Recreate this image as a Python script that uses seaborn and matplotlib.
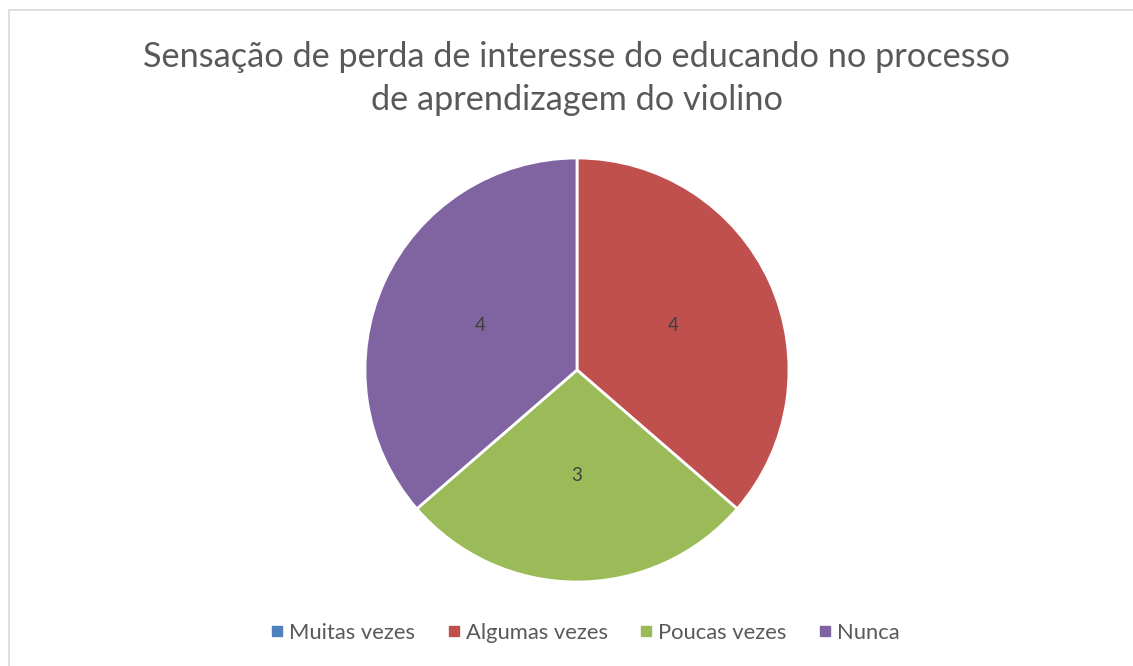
import matplotlib
matplotlib.use("Agg")
import matplotlib.pyplot as plt
import seaborn as sns
from matplotlib.patches import Rectangle
from matplotlib.lines import Line2D

categories = ["Muitas vezes", "Algumas vezes", "Poucas vezes", "Nunca"]
values = [0, 4, 3, 4]
colors = ["#4F81BD", "#C0504D", "#9BBB59", "#8064A2"]
title_lines = ["Sensação de perda de interesse do educando no processo",
               "de aprendizagem do violino"]

sns.set_theme(style="white")
plt.rcParams['font.family'] = ['Lato', 'DejaVu Sans']

W, H = 1133, 666
fig = plt.figure(figsize=(W / 100, H / 100), dpi=100)
fig.patch.set_facecolor("white")

# chart border
fig.add_artist(Rectangle((9 / W, -0.01), 1.2, 1 - 10 / H + 0.01, transform=fig.transFigure,
                         fill=False, edgecolor="#D9D9D9", linewidth=1.2))

cx, cy, r = 577, 370, 212
ax = fig.add_axes([(cx - r) / W, (H - cy - r) / H, 2 * r / W, 2 * r / H])

wedges, texts, autotexts = ax.pie(
    values, colors=colors, startangle=90, counterclock=False, radius=1,
    autopct=lambda p: "" if p == 0 else f"{round(p * sum(values) / 100):d}",
    pctdistance=0.5,
    wedgeprops=dict(edgecolor="white", linewidth=2),
    textprops=dict(color="#404040", fontsize=13.5),
)
ax.set_xlim(-1, 1)
ax.set_ylim(-1, 1)
ax.set_aspect("equal")
ax.axis("off")

for i, line in enumerate(title_lines):
    fig.text(cx / W, 1 - (57 + 43 * i) / H, line, ha="center", va="center",
             fontsize=24.7, color="#595959")

handles = [Line2D([0], [0], marker="s", linestyle="", markersize=7,
                  markerfacecolor=c, markeredgecolor=c) for c in colors]
fig.legend(handles, categories, loc="center", bbox_to_anchor=(583 / W, 1 - 633 / H),
           ncol=4, frameon=False, fontsize=15.8, labelcolor="#595959",
           handletextpad=0.05, columnspacing=1.25, handlelength=1.0)

fig.savefig("out.png", dpi=100)
